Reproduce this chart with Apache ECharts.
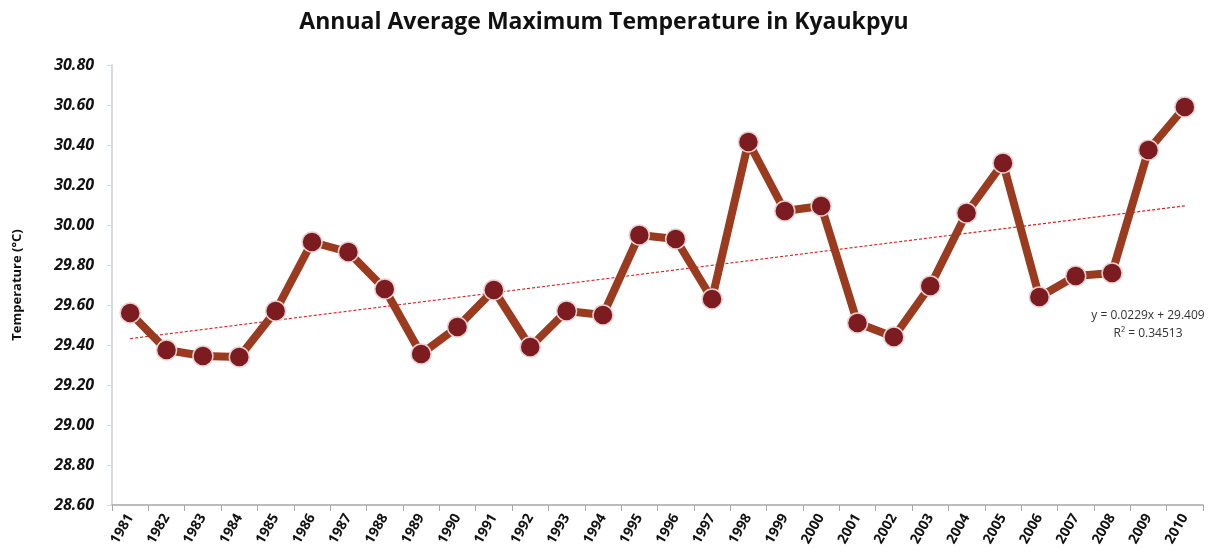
<!DOCTYPE html>
<html>
<head>
<meta charset="utf-8">
<script src="https://cdn.jsdelivr.net/npm/echarts@6/dist/echarts.min.js"></script>
<style>
  html, body { margin: 0; padding: 0; background: #fff; }
  #main { width: 1208px; height: 553px; }
</style>
</head>
<body>
<div id="main"></div>
<script>
var years = ['1981', '1982', '1983', '1984', '1985', '1986', '1987', '1988', '1989', '1990',
  '1991', '1992', '1993', '1994', '1995', '1996', '1997', '1998', '1999', '2000',
  '2001', '2002', '2003', '2004', '2005', '2006', '2007', '2008', '2009', '2010'];

var maxTemp = [29.56, 29.375, 29.345, 29.34, 29.57, 29.915, 29.865, 29.68, 29.355, 29.49,
  29.675, 29.39, 29.57, 29.55, 29.95, 29.93, 29.63, 30.415, 30.07, 30.095,
  29.51, 29.44, 29.695, 30.06, 30.31, 29.64, 29.745, 29.76, 30.375, 30.59];

// trend line end values (y = 0.0229x + 29.409 at x = 1 and x = 30)
var trendEnds = [29.432, 30.096];
var trendText = ['y = 0.0229x + 29.409', 'R\u00b2 = 0.34513'];

var chartDom = document.getElementById('main');
var myChart = echarts.init(chartDom);
var option;

option = {
  animation: false,
  textStyle: { fontFamily: 'Open Sans' },
  title: {
    text: 'Annual Average Maximum Temperature in Kyaukpyu',
    left: 'center',
    top: 6,
    textStyle: { fontSize: 23, fontWeight: 'bold', color: '#111', fontFamily: 'Open Sans' }
  },
  grid: {
    left: 112,
    right: 5,
    top: 65,
    bottom: 48
  },
  xAxis: {
    type: 'category',
    data: years,
    boundaryGap: true,
    axisLine: { lineStyle: { color: '#a6a6a6', width: 1.5 } },
    axisTick: { show: true, length: 6, lineStyle: { color: '#a6a6a6' } },
    axisLabel: {
      rotate: 60,
      interval: 0,
      fontSize: 14,
      fontWeight: 'bold',
      color: '#111',
      margin: 10
    }
  },
  yAxis: {
    type: 'value',
    min: 28.6,
    max: 30.8,
    interval: 0.2,
    name: 'Temperature (\u00b0C)',
    nameLocation: 'middle',
    nameGap: 88,
    nameTextStyle: { fontSize: 13, fontWeight: 'bold', color: '#111' },
    axisLine: { show: true, lineStyle: { color: '#d5dbe3', width: 2 } },
    axisTick: { show: true, length: 5, lineStyle: { color: '#d5dbe3' } },
    splitLine: { show: false },
    axisLabel: {
      formatter: function (v) { return v.toFixed(2); },
      fontSize: 16,
      fontWeight: 'bold',
      fontStyle: 'italic',
      color: '#111',
      margin: 18
    }
  },
  series: [
    {
      name: 'Max Temp',
      type: 'line',
      data: maxTemp,
      symbol: 'circle',
      symbolSize: 20,
      z: 3,
      lineStyle: { color: '#9a3b20', width: 8 },
      itemStyle: { color: '#7c1c20', borderColor: '#ead0d0', borderWidth: 1.5 },
      markLine: {
        silent: true,
        symbol: ['none', 'none'],
        label: { show: false },
        lineStyle: { color: '#e02020', type: [3, 2], width: 1.2 },
        z: 2,
        data: [
          [
            { coord: [years[0], trendEnds[0]] },
            { coord: [years[years.length - 1], trendEnds[1]] }
          ]
        ]
      }
    }
  ],
  graphic: [
    {
      type: 'text',
      x: 1148,
      y: 307,
      style: {
        text: trendText[0] + '\n' + trendText[1],
        textAlign: 'center',
        fontSize: 12,
        lineHeight: 18,
        fill: '#333',
        fontFamily: 'Open Sans'
      }
    }
  ]
};

myChart.setOption(option);
</script>
</body>
</html>
